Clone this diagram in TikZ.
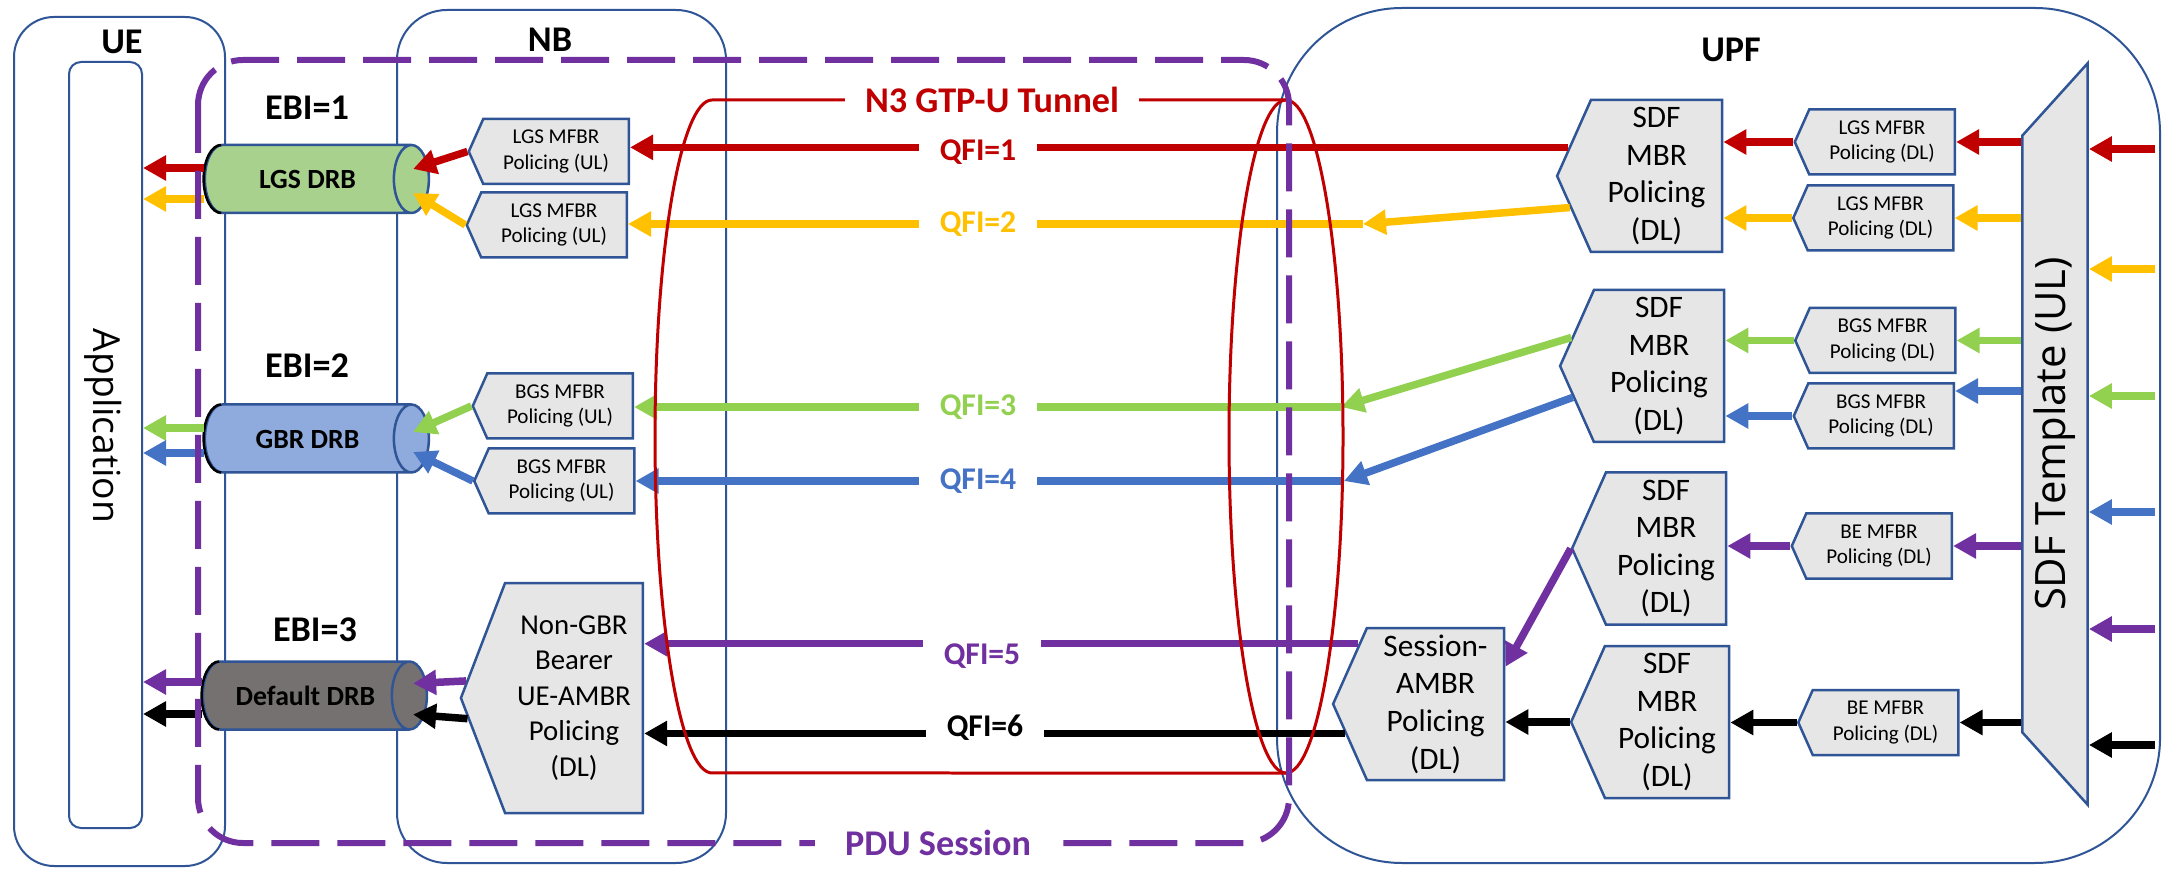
\documentclass[tikz,border=0pt]{standalone}
\usepackage{fontspec}
\setmainfont{Carlito}
\newfontfamily\appfont{Open Sans}
\usetikzlibrary{arrows.meta,shapes.geometric,shapes.symbols}

\definecolor{boxline}{HTML}{2F5597}
\definecolor{boxfill}{HTML}{E7E6E6}
\definecolor{qred}{HTML}{C00000}
\definecolor{qyellow}{HTML}{FFC000}
\definecolor{qgreen}{HTML}{92D050}
\definecolor{qblue}{HTML}{4472C4}
\definecolor{qpurple}{HTML}{7030A0}
\definecolor{lgsfill}{HTML}{A9D18E}
\definecolor{gbrfill}{HTML}{8FAADC}
\definecolor{dfltfill}{HTML}{767171}

\begin{document}
\begin{tikzpicture}[x=0.1mm, y=-0.1mm,
  container/.style={draw=boxline, line width=0.2mm, inner sep=0pt},
  title/.style={font=\bfseries\fontsize{10.3}{12}\selectfont},
  drb/.style={cylinder, draw=boxline, line width=0.25mm, cylinder uses custom fill,
    cylinder body fill=#1, cylinder end fill=#1, aspect=1.75, minimum width=6.8mm,
    minimum height=22.4mm, inner sep=0pt, text height=2mm, text depth=0pt,
    font=\bfseries\fontsize{7.9}{9}\selectfont},
  drbedge/.style={draw=black, line width=0.25mm},
  policer/.style={signal, signal to=west, signal pointer angle=132, draw=boxline,
    fill=boxfill, line width=0.25mm, inner sep=0pt, align=center},
  mfbr/.style={policer, minimum width=16mm, minimum height=6.5mm, font=\fontsize{6}{7.3}\selectfont},
  mbr/.style={policer, minimum height=15.2mm, font=\fontsize{8.9}{10.7}\selectfont},
  flow/.style={draw=#1, line width=0.75mm, -{Triangle[length=2.3mm, width=2.4mm]}},
  qfi/.style={fill=white, inner xsep=2.1mm, inner ysep=0.5mm, font=\bfseries\fontsize{9}{10}\selectfont},
  tunnel/.style={draw=qred, line width=0.3mm},
  pdu/.style={draw=qpurple, line width=0.6mm, dash pattern=on 4.8mm off 1.8mm, rounded corners=4.5mm}
]
  \fill[white] (0,0) rectangle (2164,869);
  \useasboundingbox (0,0) rectangle (2164,869);

  % the three network elements
  \node[container, rounded corners=4mm, minimum width=21.1mm, minimum height=84.9mm] (ue) at (119.5,441.5) {};
  \node[container, rounded corners=1.2mm, minimum width=7.3mm, minimum height=76.6mm] (app) at (105.5,445) {};
  \node[container, rounded corners=5mm, minimum width=32.9mm, minimum height=85.3mm] (nb) at (561.5,436.5) {};
  \node[container, rounded corners=12.5mm, minimum width=88.3mm, minimum height=85.5mm] (upf) at (1718.5,435.5) {};
  \node[title] (uelabel) at (122,42) {UE};
  \node[title] (nblabel) at (550,40) {NB};
  \node[title] (upflabel) at (1731,50) {UPF};
  \node[rotate=-90, font=\appfont\fontsize{10.6}{12}\selectfont] (applabel) at (103,426) {Application};

  % radio bearers
  \node[title] (ebi1) at (307,108) {EBI=1};
  \node[title] (ebi2) at (307,366) {EBI=2};
  \node[title] (ebi3) at (315,630) {EBI=3};
  \node[drb=lgsfill] (lgs) at (307.5,179) {LGS DRB};
  \node[drb=gbrfill] (gbr) at (307.5,438.5) {GBR DRB};
  \node[drb=dfltfill] (dflt) at (305.5,695.5) {Default DRB};
  \foreach \d in {lgs, gbr, dflt}
    \draw[drbedge] ([xshift=1.75mm,yshift=3.4mm]\d.west) arc[start angle=90, end angle=270, x radius=1.75mm, y radius=3.4mm];

  % NB policers
  \node[mfbr] (ul1) at (556,151.5) {LGS MFBR\\Policing (UL)};
  \node[mfbr] (ul2) at (554,225) {LGS MFBR\\Policing (UL)};
  \node[mfbr] (ul3) at (560,406) {BGS MFBR\\Policing (UL)};
  \node[mfbr] (ul4) at (561.5,481) {BGS MFBR\\Policing (UL)};
  \node[policer, signal pointer angle=138, minimum width=18.2mm, minimum height=23mm,
    font=\fontsize{8.2}{10.1}\selectfont] (ngbr) at (574,698) {Non-GBR\\Bearer\\UE-AMBR\\Policing\\(DL)};

  % UPF policers
  \node[mbr, minimum width=16.5mm] (sdf1) at (1656.5,176) {SDF\\MBR\\Policing\\(DL)};
  \node[mbr, minimum width=16.4mm] (sdf2) at (1659,366) {SDF\\MBR\\Policing\\(DL)};
  \node[mbr, minimum width=15.4mm] (sdf3) at (1666,548.5) {SDF\\MBR\\Policing\\(DL)};
  \node[mbr, minimum width=15.8mm] (sdf4) at (1667,722) {SDF\\MBR\\Policing\\(DL)};
  \node[mbr, minimum width=17.1mm] (ambr) at (1435.5,704) {Session-\\AMBR\\Policing\\(DL)};
  \node[mfbr] (dl1) at (1882,142) {LGS MFBR\\Policing (DL)};
  \node[mfbr] (dl2) at (1880.5,218) {LGS MFBR\\Policing (DL)};
  \node[mfbr] (dl3) at (1882.5,340.5) {BGS MFBR\\Policing (DL)};
  \node[mfbr] (dl4) at (1881,416) {BGS MFBR\\Policing (DL)};
  \node[mfbr] (dl5) at (1879,546) {BE MFBR\\Policing (DL)};
  \node[mfbr] (dl6) at (1885.5,722.5) {BE MFBR\\Policing (DL)};
  \node[trapezium, trapezium stretches=true, trapezium left angle=55, trapezium right angle=55,
    rotate=90, draw=boxline, fill=boxfill, line width=0.25mm, minimum width=74.2mm,
    minimum height=6.2mm, font=\appfont\fontsize{11.9}{13}\selectfont] (tmpl) at (2055,434) {SDF Template (UL)};

  % traffic entering the UPF
  \foreach \c/\y [count=\i] in {qred/149, qyellow/269, qgreen/396, qblue/512, qpurple/629, black/745} {
    \coordinate (in\i) at (2155,\y);
    \draw[flow=\c] (in\i) -- (in\i -| tmpl.south);
  }
  \foreach \b/\c in {dl1/qred, dl2/qyellow, dl3/qgreen, dl5/qpurple, dl6/black}
    \draw[flow=\c] (\b.east -| tmpl.north) -- (\b.east);
  \coordinate (b4) at ([yshift=2.5mm]dl4.east);
  \draw[flow=qblue] (b4 -| tmpl.north) -- (b4);

  \draw[flow=qred] (dl1.west) -- (dl1.west -| sdf1.east);
  \draw[flow=qyellow] (dl2.west) -- (dl2.west -| sdf1.east);
  \draw[flow=qgreen] (dl3.west) -- (dl3.west -| sdf2.east);
  \draw[flow=qblue] (dl4.west) -- (dl4.west -| sdf2.east);
  \draw[flow=qpurple] (dl5.west) -- (dl5.west -| sdf3.east);
  \draw[flow=black] (dl6.west) -- (dl6.west -| sdf4.east);
  \draw[flow=qpurple] (sdf3.west) -- ([yshift=-4mm]ambr.north east);
  \draw[flow=black] (sdf4.west) -- (sdf4.west -| ambr.east);

  % QoS flows through the tunnel
  \coordinate (q2) at (1363,224);
  \coordinate (q3) at (1341,407);
  \coordinate (q4) at (1344,481);
  \draw[flow=qred] (sdf1.162) -- (sdf1.162 -| ul1.east);
  \draw[flow=qyellow] (sdf1.200) -- (q2);
  \draw[flow=qyellow] (q2) -- (q2 -| ul2.east);
  \draw[flow=qgreen] (sdf2.162) -- (q3);
  \draw[flow=qgreen] (q3) -- (q3 -| ul3.east);
  \draw[flow=qblue] (sdf2.200) -- (q4);
  \draw[flow=qblue] (q4) -- (q4 -| ul4.east);
  \draw[flow=qpurple] (ambr.142) -- (ambr.142 -| ngbr.east);
  \draw[flow=black] (ambr.198) -- (ambr.198 -| ngbr.east);
  \node[qfi, text=qred] (qfi1) at (978,152) {QFI=1};
  \node[qfi, text=qyellow] (qfi2) at (978,224) {QFI=2};
  \node[qfi, text=qgreen] (qfi3) at (978,407) {QFI=3};
  \node[qfi, text=qblue] (qfi4) at (978,481) {QFI=4};
  \node[qfi, text=qpurple] (qfi5) at (982,656) {QFI=5};
  \node[qfi, text=black] (qfi6) at (985,728) {QFI=6};

  % NB to the bearers
  \draw[flow=qred] (ul1.west) -- ([xshift=-1.7mm,yshift=1mm]lgs.east);
  \draw[flow=qyellow] (ul2.west) -- ([xshift=-1.7mm,yshift=-1.4mm]lgs.east);
  \draw[flow=qgreen] (ul3.west) -- ([xshift=-1.7mm,yshift=0.65mm]gbr.east);
  \draw[flow=qblue] (ul4.west) -- ([xshift=-1.7mm,yshift=-1.35mm]gbr.east);
  \draw[flow=qpurple] (ngbr.171) -- ([xshift=-1.5mm,yshift=1.2mm]dflt.east);
  \draw[flow=black] (ngbr.191) -- ([xshift=-1.5mm,yshift=-1.9mm]dflt.east);

  % bearers to the application
  \draw[flow=qred] ([yshift=1.1mm]lgs.west) -- ([yshift=1.1mm]lgs.west -| app.east);
  \draw[flow=qyellow] ([yshift=-2mm]lgs.west) -- ([yshift=-2mm]lgs.west -| app.east);
  \draw[flow=qgreen] ([yshift=1.05mm]gbr.west) -- ([yshift=1.05mm]gbr.west -| app.east);
  \draw[flow=qblue] ([yshift=-1.45mm]gbr.west) -- ([yshift=-1.45mm]gbr.west -| app.east);
  \draw[flow=qpurple] ([yshift=1.35mm]dflt.west) -- ([yshift=1.35mm]dflt.west -| app.east);
  \draw[flow=black] ([yshift=-1.85mm]dflt.west) -- ([yshift=-1.85mm]dflt.west -| app.east);

  % N3 tunnel and PDU session
  \draw[tunnel] (1286,100) -- (712,100) arc[start angle=90, end angle=270, x radius=5.7mm, y radius=33.65mm] -- (1286,773);
  \draw[tunnel] (1286,436.5) ellipse[x radius=5.7mm, y radius=33.65mm];
  \node[fill=white, text=qred, inner xsep=2mm, inner ysep=0.5mm, title] (n3) at (992,100) {N3 GTP-U Tunnel};
  \draw[pdu] (198,60) rectangle (1289,843);
  \node[fill=white, text=qpurple, inner xsep=3mm, inner ysep=0.5mm, title] (pdulabel) at (938,843) {PDU Session};
\end{tikzpicture}
\end{document}
